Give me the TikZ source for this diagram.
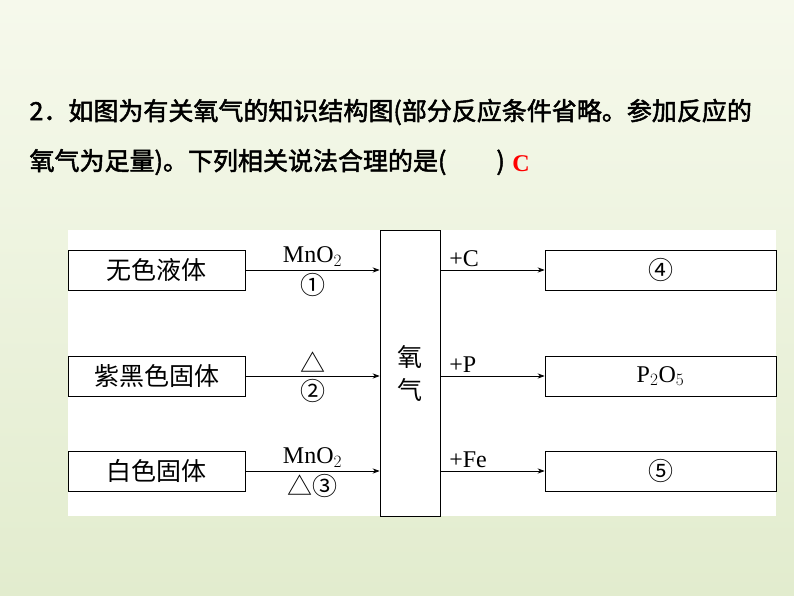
\documentclass[tikz,border=0pt]{standalone}
\usepackage{fontspec}
\newfontfamily\cjk{Noto Sans CJK SC}[AutoFakeBold=2]
\setmainfont{Liberation Serif}
\usetikzlibrary{arrows.meta}
\definecolor{bgtop}{RGB}{246,249,236}
\definecolor{bgbot}{RGB}{226,236,206}
\tikzset{
  box/.style={draw, thick, minimum height=40pt, inner sep=0pt},
  lbl/.style={font=\fontsize{24}{26}\selectfont},
  zh/.style={font=\cjk\fontsize{25}{27}\selectfont},
  link/.style={thick, -{Stealth[length=7pt]}}
}
\begin{document}
\begin{tikzpicture}[x=1pt, y=-1pt]
  \shade[top color=bgtop, bottom color=bgbot] (0,0) rectangle (794,596);
  \fill[white] (68,230) rectangle (776,516);
  % question text
  \node[anchor=west, font=\cjk\bfseries\fontsize{25}{28}\selectfont] (q1) at (26,112)
    {2．如图为有关氧气的知识结构图(部分反应条件省略。参加反应的};
  \node[anchor=west, font=\cjk\bfseries\fontsize{25}{28}\selectfont] (q2) at (26,162)
    {氧气为足量)。下列相关说法合理的是(\quad\quad)};
  \node[font=\bfseries\fontsize{24}{26}\selectfont, text=red] (ans) at (521,164) {C};
  % left column
  \node[box, minimum width=177pt, zh] (a) at (156.5,270) {无色液体};
  \node[box, minimum width=177pt, zh] (b) at (156.5,376) {紫黑色固体};
  \node[box, minimum width=177pt, zh] (c) at (156.5,471) {白色固体};
  % oxygen
  \node[box, minimum width=60pt, minimum height=286pt, zh, align=center] (o) at (410,373) {氧\\[6pt]气};
  % right column
  \node[box, minimum width=231pt, zh] (d) at (660.5,270) {④};
  \node[box, minimum width=231pt, lbl] (e) at (660.5,376) {P$_2$O$_5$};
  \node[box, minimum width=231pt, zh] (f) at (660.5,471) {⑤};
  % links
  \draw[link] (a.east) -- (a.east -| o.west) node[midway, above, lbl] {MnO$_2$} node[midway, below, zh] {①};
  \draw[link] (b.east) -- (b.east -| o.west) node[midway, above, zh] {△} node[midway, below, zh] {②};
  \draw[link] (c.east) -- (c.east -| o.west) node[midway, above, lbl] {MnO$_2$} node[midway, below, zh] {△③};
  \draw[link] (d.west -| o.east) -- (d.west) node[pos=0.05, above right, lbl] {+C};
  \draw[link] (e.west -| o.east) -- (e.west) node[pos=0.05, above right, lbl] {+P};
  \draw[link] (f.west -| o.east) -- (f.west) node[pos=0.05, above right, lbl] {+Fe};
\end{tikzpicture}
\end{document}
